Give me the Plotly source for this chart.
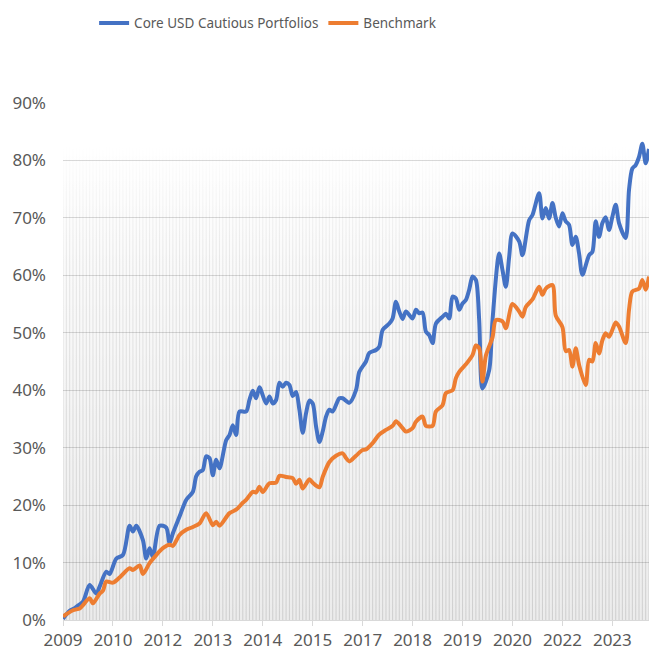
import plotly.graph_objects as go

# ---- data (month index from start, value in %) ----
year_labels = ["2009", "2010", "2012", "2013", "2014", "2015",
               "2017", "2018", "2019", "2020", "2022", "2023"]
n_months = 177
months = list(range(n_months))

core_month = [0, 2, 3, 4, 6, 8, 10, 11, 13, 14, 16, 18, 20, 21, 22, 24, 25, 26, 27, 29,
              31, 32, 33, 35, 37, 39, 40, 41, 42, 43, 44, 45, 46, 47, 49, 50, 51, 52, 53, 55,
              56, 57, 58, 59, 61, 62, 63, 64, 65, 66, 67, 68, 69, 70, 71, 72, 73, 74, 75, 76,
              77, 78, 79, 80, 81, 83, 84, 86, 88, 89, 91, 92, 94, 95, 96, 98, 99, 100, 101, 102,
              103, 105, 106, 107, 108, 109, 110, 111, 112, 114, 115, 116, 117, 118, 119, 120, 121, 122, 123, 124,
              125, 126, 128, 129, 131, 132, 133, 134, 135, 137, 138, 140, 141, 143, 144, 145, 146, 147, 148, 149,
              150, 151, 152, 153, 154, 155, 156, 158, 159, 160, 161, 162, 163, 164, 165, 166, 167, 169, 170, 171,
              172, 173, 174, 175, 176]
core_value = [0.2, 1.6, 1.9, 2.3, 3.2, 6.1, 4.6, 5.8, 8.4, 8.0, 10.7, 11.3, 16.4, 15.4, 16.4, 13.9, 10.7, 12.5, 11.0, 16.4,
              16.1, 13.4, 15.1, 18.0, 20.9, 22.3, 25.0, 25.8, 26.1, 28.5, 28.2, 25.2, 27.9, 26.4, 31.3, 32.2, 33.9, 32.2, 36.3, 36.3,
              38.3, 39.9, 38.6, 40.5, 37.7, 38.9, 37.7, 38.3, 41.3, 40.6, 41.3, 40.9, 39.0, 39.7, 36.6, 32.6, 36.0, 38.2, 37.7, 33.7,
              31.0, 32.8, 35.4, 36.6, 36.3, 38.6, 38.6, 37.8, 40.0, 43.2, 45.0, 46.5, 47.0, 47.6, 50.5, 51.6, 52.5, 55.4, 53.7, 52.4,
              53.7, 52.5, 54.0, 53.4, 53.5, 50.2, 49.6, 48.2, 51.6, 52.8, 53.3, 52.5, 56.3, 56.0, 54.0, 55.1, 55.7, 57.5, 59.8, 59.2,
              52.2, 40.3, 43.5, 52.2, 63.8, 60.9, 58.0, 63.2, 67.3, 65.9, 63.5, 69.6, 70.5, 74.3, 69.9, 71.7, 69.9, 72.6, 70.0, 68.5,
              70.8, 69.4, 68.8, 65.3, 66.7, 63.8, 60.1, 63.5, 64.1, 69.4, 66.7, 69.1, 70.1, 67.9, 70.2, 72.3, 69.1, 66.5, 74.9, 78.6,
              79.2, 80.6, 82.9, 79.5, 82.0]

bench_month = [0, 3, 5, 6, 8, 9, 11, 12, 13, 15, 17, 20, 21, 23, 24, 26, 28, 30, 32, 33,
               35, 37, 39, 41, 43, 45, 46, 47, 50, 52, 54, 55, 57, 58, 59, 60, 62, 64, 65, 67,
               69, 70, 71, 72, 74, 75, 77, 78, 80, 82, 84, 85, 86, 88, 90, 91, 93, 95, 97, 99,
               100, 102, 103, 105, 106, 108, 109, 111, 112, 114, 115, 117, 118, 119, 121, 123, 124, 125, 126, 127,
               129, 130, 132, 133, 135, 137, 138, 139, 141, 143, 144, 145, 147, 148, 150, 151, 152, 153, 154, 155,
               157, 158, 159, 160, 161, 162, 163, 164, 165, 166, 167, 169, 170, 171, 173, 174, 175, 176]
bench_value = [0.6, 1.7, 2.0, 2.6, 3.8, 2.9, 4.6, 5.1, 6.7, 6.5, 7.4, 9.0, 8.7, 9.5, 8.0, 9.9, 11.3, 12.5, 13.1, 12.9,
               14.8, 15.7, 16.2, 16.8, 18.6, 16.5, 17.1, 16.4, 18.6, 19.2, 20.4, 20.9, 22.3, 22.2, 23.2, 22.3, 23.8, 23.9, 25.1, 24.9,
               24.7, 23.7, 24.4, 22.9, 24.5, 23.9, 23.1, 24.9, 27.5, 28.6, 29.0, 28.2, 27.6, 28.6, 29.6, 29.7, 30.8, 32.3, 33.1, 33.8,
               34.6, 33.4, 32.8, 33.4, 34.5, 35.4, 33.8, 33.8, 36.3, 37.4, 39.5, 40.0, 42.1, 43.2, 44.5, 46.1, 47.8, 47.3, 41.5, 46.0,
               49.2, 52.2, 52.0, 50.8, 55.0, 53.7, 52.8, 54.5, 55.8, 58.0, 56.6, 57.7, 58.3, 53.0, 51.0, 46.8, 47.0, 44.1, 47.3, 44.4,
               40.9, 45.3, 45.0, 48.2, 46.4, 48.7, 49.9, 49.3, 50.5, 51.8, 51.1, 48.2, 54.0, 57.2, 57.7, 59.2, 57.5, 59.8]

y_ticks = [0, 10, 20, 30, 40, 50, 60, 70, 80, 90]

# ---- style ----
BLUE = "#4472C4"
ORANGE = "#ED7D31"
GRID = "#d9d9d9"
TEXT = "#595959"
FONT = "Noto Sans"
SHADE_TOP = 83  # top of the shaded background columns (in %)
half_w = 0.16

fig = go.Figure()

# background gradient fill
fig.add_trace(go.Scatter(
    x=[months[0] - 0.5, months[-1] + 0.5], y=[SHADE_TOP, SHADE_TOP],
    mode="none", fill="tozeroy",
    fillgradient=dict(type="vertical", start=0, stop=SHADE_TOP,
                      colorscale=[[0, "rgba(0,0,0,0.075)"], [1, "rgba(0,0,0,0)"]]),
    showlegend=False, hoverinfo="skip"))

# vertical column lines (one per month) with vertical fade
cx, cy = [], []
for m in months:
    cx += [m - half_w, m - half_w, m + half_w, m + half_w, None]
    cy += [0, SHADE_TOP, SHADE_TOP, 0, None]
fig.add_trace(go.Scatter(
    x=cx, y=cy, mode="none", fill="toself",
    fillgradient=dict(type="vertical", start=0, stop=SHADE_TOP,
                      colorscale=[[0, "rgba(0,0,0,0.12)"], [0.75, "rgba(0,0,0,0.075)"],
                                  [1, "rgba(0,0,0,0)"]]),
    showlegend=False, hoverinfo="skip"))

fig.add_trace(go.Scatter(
    x=core_month, y=core_value, mode="lines", name="Core USD Cautious Portfolios",
    line=dict(color=BLUE, width=4, shape="spline", smoothing=0.8)))
fig.add_trace(go.Scatter(
    x=bench_month, y=bench_value, mode="lines", name="Benchmark",
    line=dict(color=ORANGE, width=4, shape="spline", smoothing=0.8)))

fig.update_layout(
    width=649, height=650,
    margin=dict(l=63, r=0, t=103, b=30),
    paper_bgcolor="white", plot_bgcolor="white",
    font=dict(family=FONT, size=17, color=TEXT),
    legend=dict(orientation="h", xref="container", yref="container",
                x=0.145, xanchor="left", y=0.988, yanchor="top",
                font=dict(family=FONT, size=13.5, color=TEXT),
                bgcolor="rgba(0,0,0,0)"),
    showlegend=True,
)
fig.update_xaxes(
    range=[months[0], months[-1]],
    tickmode="array", tickvals=months[::15], ticktext=year_labels,
    ticks="outside", ticklen=5, tickcolor=GRID, tickwidth=1,
    showline=True, linecolor=GRID, linewidth=1,
    showgrid=False, zeroline=False,
    tickfont=dict(family=FONT, size=17, color=TEXT),
)
fig.update_yaxes(
    range=[0, 90],
    tickmode="array", tickvals=y_ticks, ticktext=[f"{v}%" for v in y_ticks],
    showgrid=True, gridcolor=GRID, gridwidth=1,
    zeroline=False, showline=False, ticks="",
    ticklabelstandoff=16,
    tickfont=dict(family=FONT, size=17, color=TEXT),
)

fig.write_html("out.html", config={"displayModeBar": False},
               post_script="document.body.style.margin='0';")
